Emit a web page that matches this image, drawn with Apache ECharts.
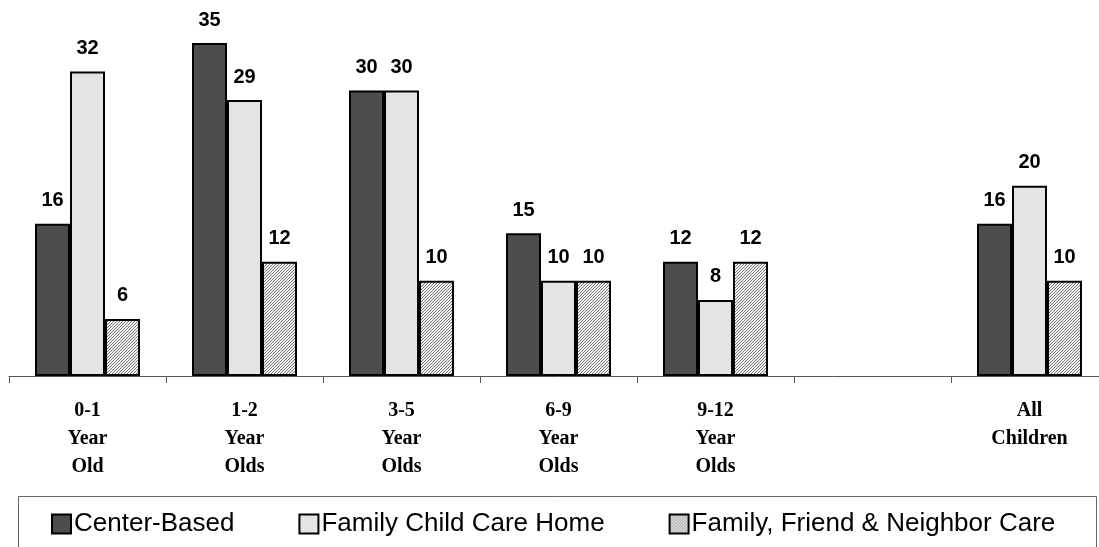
<!DOCTYPE html>
<html>
<head>
<meta charset="utf-8">
<script src="https://cdn.jsdelivr.net/npm/echarts@6/dist/echarts.min.js"></script>
<style>
  html, body { margin: 0; padding: 0; background: #fff; overflow: hidden; }
  /* the last category slot runs a few pixels past the right edge */
  #chart { width: 1108px; height: 547px; }
</style>
</head>
<body>
<div id="chart"></div>
<script>
// Age groups (the empty slot leaves a gap before the overall total)
const categories = ['0-1\nYear\nOld', '1-2\nYear\nOlds', '3-5\nYear\nOlds', '6-9\nYear\nOlds', '9-12\nYear\nOlds', '', 'All\nChildren'];
const seriesNames = ['Center-Based', 'Family Child Care Home', 'Family, Friend & Neighbor Care'];
const centerBased = [16, 35, 30, 15, 12, null, 16];
const familyChildCare = [32, 29, 30, 10, 8, null, 20];
const friendNeighbor = [6, 12, 10, 10, 12, null, 10];

// Fine diagonal hatch fill
function makeHatch() {
  const c = document.createElement('canvas');
  c.width = 3; c.height = 3;
  const g = c.getContext('2d');
  g.fillStyle = '#f2f2f2';
  g.fillRect(0, 0, 3, 3);
  g.fillStyle = '#7a7a7a';
  for (let i = 0; i < 3; i++) g.fillRect(i, 2 - i, 1, 1);
  return c;
}
const hatch = { image: makeHatch(), repeat: 'repeat' };

const labelStyle = {
  show: true,
  position: 'top',
  distance: 13,
  fontFamily: 'Liberation Sans, Arial, sans-serif',
  fontWeight: 'bold',
  fontSize: 20,
  color: '#000'
};

function barSeries(name, data, fill) {
  return {
    name: name,
    type: 'bar',
    data: data,
    barWidth: 35,
    barGap: '0%',
    itemStyle: { color: fill, borderColor: '#000', borderWidth: 2 },
    label: labelStyle,
    emphasis: { disabled: true }
  };
}

const chart = echarts.init(document.getElementById('chart'), null, { renderer: 'canvas' });
chart.setOption({
  animation: false,
  backgroundColor: '#fff',
  grid: { left: 9, right: 0, top: 43, height: 333, containLabel: false },
  xAxis: {
    type: 'category',
    data: categories,
    axisLine: { show: true, lineStyle: { color: '#555', width: 1 } },
    axisTick: { show: true, length: 7, lineStyle: { color: '#555' } },
    axisLabel: {
      interval: 0,
      margin: 21,
      fontFamily: 'Liberation Serif, Times New Roman, serif',
      fontWeight: 'bold',
      fontSize: 20,
      lineHeight: 28,
      color: '#000'
    }
  },
  yAxis: {
    type: 'value',
    min: 0,
    max: 35,
    show: false,
    splitLine: { show: false }
  },
  legend: {
    left: 51,
    top: 511,
    padding: 0,
    itemWidth: 19,
    itemHeight: 19,
    itemGap: 64,
    icon: 'rect',
    textStyle: {
      fontFamily: 'Liberation Sans, Arial, sans-serif',
      fontSize: 26,
      color: '#000',
      padding: [0, 0, 0, -2]
    },
    itemStyle: { borderColor: '#000', borderWidth: 2 },
    data: seriesNames
  },
  graphic: [{
    type: 'rect',
    silent: true,
    shape: { x: 18.5, y: 496.5, width: 1078, height: 60 },
    style: { fill: 'none', stroke: '#666', lineWidth: 1 }
  }],
  series: [
    barSeries(seriesNames[0], centerBased, '#4d4d4d'),
    barSeries(seriesNames[1], familyChildCare, '#e4e4e4'),
    barSeries(seriesNames[2], friendNeighbor, hatch)
  ]
});
</script>
</body>
</html>
